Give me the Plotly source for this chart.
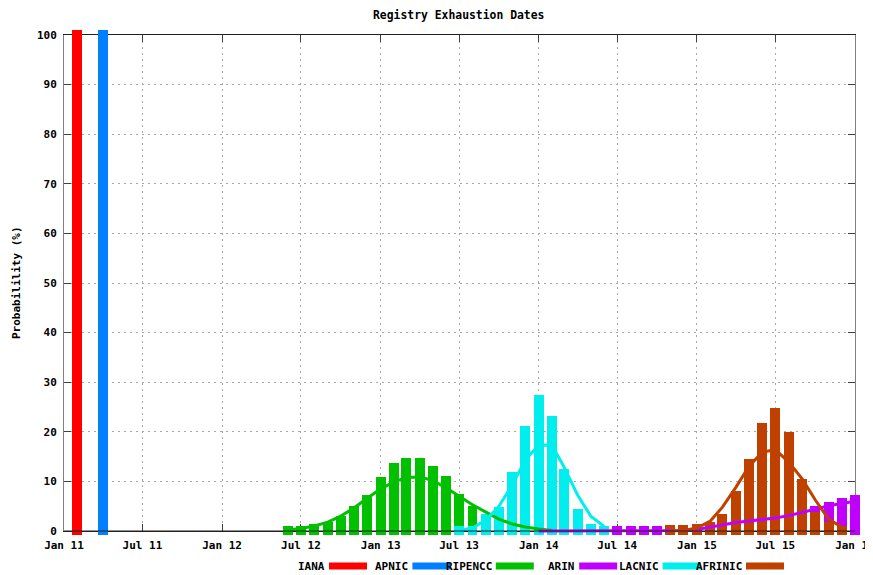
import plotly.graph_objects as go
import pandas as pd
from datetime import datetime, timedelta

# ---------------- data (probability %, monthly) ----------------
IANA_DATES = ["2011-02-01"]
IANA_BARS = [101.0]

APNIC_DATES = ["2011-04-01"]
APNIC_BARS = [101.0]

RIPENCC_BAR_START = "2012-06-01"
RIPENCC_BARS = [1.05, 1.05, 1.45, 1.85, 3.0, 5.0, 7.3, 10.85, 13.7, 14.75, 14.75,
                13.2, 11.0, 7.5, 5.1, 3.3, 1.9, 1.4, 1.05]
RIPENCC_FIT_START = "2012-06-01"
RIPENCC_FIT = [0.2, 0.5, 1.0, 1.8, 3.0, 4.7, 6.6, 8.5, 9.9, 10.8, 10.9, 10.2, 8.7,
               7.0, 5.3, 3.8, 2.4, 1.4, 0.8, 0.4, 0.1]

ARIN_BAR_START = "2014-07-01"
ARIN_BARS = [1.05, 1.05, 1.05, 1.05, 1.05, 1.05, 1.1, 1.2, 1.4, 1.6, 1.9, 2.2,
             2.6, 3.0, 3.6, 5.1, 5.8, 6.7, 7.35]
ARIN_FIT_START = "2014-01-01"
ARIN_FIT = [0.0, 0.0, 0.0, 0.0, 0.0, 0.0, 0.0, 0.0, 0.0, 0.0, 0.05, 0.1,
            0.3, 0.8, 1.3, 1.7, 2.0, 2.3, 2.6, 3.1, 3.7, 4.4, 5.1, 5.6, 6.0]

LACNIC_BAR_START = "2013-07-01"
LACNIC_BARS = [1.05, 1.05, 3.4, 4.9, 11.9, 21.1, 27.45, 23.1, 12.45, 4.5, 1.45, 1.1]
LACNIC_FIT_START = "2013-07-01"
LACNIC_FIT = [0.1, 0.6, 2.2, 5.0, 9.3, 14.3, 17.4, 17.2, 12.8, 7.2, 3.0, 0.9]

AFRINIC_BAR_START = "2014-11-01"
AFRINIC_BARS = [1.2, 1.2, 1.45, 1.9, 3.5, 8.0, 14.6, 21.7, 24.9, 20.0, 10.5, 3.8, 1.8, 1.1]
AFRINIC_FIT_START = "2014-11-01"
AFRINIC_FIT = [0.0, 0.1, 0.6, 2.0, 4.8, 8.8, 13.0, 15.9, 16.4, 13.9, 10.5, 6.3, 2.4, 0.8]

X_TICKS = ["2011-01-01", "2011-07-01", "2012-01-01", "2012-07-01", "2013-01-01",
           "2013-07-01", "2014-01-01", "2014-07-01", "2015-01-01", "2015-07-01", "2016-01-01"]
X_TICK_TEXT = ["Jan 11", "Jul 11", "Jan 12", "Jul 12", "Jan 13", "Jul 13",
               "Jan 14", "Jul 14", "Jan 15", "Jul 15", "Jan 16"]
Y_TICKS = [0, 10, 20, 30, 40, 50, 60, 70, 80, 90, 100]

NAMES = ["IANA", "APNIC", "RIPENCC", "ARIN", "LACNIC", "AFRINIC"]
COLORS = ["#ff0000", "#0080ff", "#00c000", "#c000ff", "#00eeee", "#c04000"]

TITLE = "Registry Exhaustion Dates"
YLABEL = "Probabilility (%)"

# ---------------- geometry (page pixels; page body has an 8px margin) ----------------
OFF = 8
W, H = 873 - OFF, 575 - OFF
FL, FR, FT, FB = 64 - OFF, 855 - OFF, 35 - OFF, 531 - OFF     # frame in figure pixels
X0, X1 = datetime(2011, 1, 1), datetime(2016, 1, 1)
ppd = (FR - FL) / (X1 - X0).days
ppu = (FB - FT) / 100.0
xr0 = X0 - timedelta(days=FL / ppd)
xr1 = X1 + timedelta(days=(W - FR) / ppd)
yr0 = -(H - FB) / ppu
yr1 = 100 + FT / ppu
BASE = -0.8
BAR_W_MS = 23 * 86400000

FONT = dict(family="DejaVu Sans Mono", size=11, color="black", weight="bold")
TITLE_FONT = dict(family="DejaVu Sans Mono", size=11.4, color="black", weight="bold")


def months(start, n):
    return [d.strftime("%Y-%m-%d") for d in pd.date_range(start, periods=n, freq="MS")]


bar_sets = [
    (IANA_DATES, IANA_BARS),
    (APNIC_DATES, APNIC_BARS),
    (months(RIPENCC_BAR_START, len(RIPENCC_BARS)), RIPENCC_BARS),
    (months(ARIN_BAR_START, len(ARIN_BARS)), ARIN_BARS),
    (months(LACNIC_BAR_START, len(LACNIC_BARS)), LACNIC_BARS),
    (months(AFRINIC_BAR_START, len(AFRINIC_BARS)), AFRINIC_BARS),
]
fit_sets = [
    None, None,
    (months(RIPENCC_FIT_START, len(RIPENCC_FIT)), RIPENCC_FIT),
    (months(ARIN_FIT_START, len(ARIN_FIT)), ARIN_FIT),
    (months(LACNIC_FIT_START, len(LACNIC_FIT)), LACNIC_FIT),
    (months(AFRINIC_FIT_START, len(AFRINIC_FIT)), AFRINIC_FIT),
]

fig = go.Figure()

# invisible trace so the frame subplot exists
fig.add_trace(go.Scatter(x=[X_TICKS[0]], y=[0], mode="markers", marker=dict(opacity=0),
                         showlegend=False, hoverinfo="skip", xaxis="x", yaxis="y"))

for name, color, (xs, vals) in zip(NAMES, COLORS, bar_sets):
    fig.add_trace(go.Bar(x=xs, y=[v - BASE for v in vals], base=BASE, width=BAR_W_MS,
                         name=name, marker=dict(color=color, line=dict(width=0)),
                         showlegend=False, xaxis="x2", yaxis="y2"))

for name, color, fs in zip(NAMES, COLORS, fit_sets):
    if fs is None:
        continue
    xs, vals = fs
    fig.add_trace(go.Scatter(x=xs, y=vals, mode="lines", name=name + " fit",
                             line=dict(color=color, width=3), showlegend=False,
                             xaxis="x2", yaxis="y2"))

axis_common = dict(ticks="inside", ticklen=7, tickcolor="#404040", showline=True,
                   mirror="ticks", showgrid=True, gridcolor="#a8a8a8", griddash="2px,4px",
                   gridwidth=1, zeroline=False, tickfont=FONT, automargin=False,
                   ticklabeloverflow="allow")

fig.update_layout(
    width=W, height=H,
    margin=dict(l=0, r=0, t=0, b=0),
    paper_bgcolor="white", plot_bgcolor="rgba(0,0,0,0)",
    barmode="overlay", bargap=0,
    showlegend=False,
    xaxis=dict(domain=[FL / W, FR / W], type="date", range=[X_TICKS[0], X_TICKS[-1]],
               tickmode="array", tickvals=X_TICKS, ticktext=X_TICK_TEXT,
               linecolor="#202020", anchor="y", ticklabelstandoff=4, **axis_common),
    yaxis=dict(domain=[1 - FB / H, 1 - FT / H], range=[0, 100], tickmode="array",
               tickvals=Y_TICKS, linecolor="#808080", anchor="x", ticklabelstandoff=4,
               **axis_common),
    xaxis2=dict(domain=[0, 1], type="date",
                range=[xr0.strftime("%Y-%m-%d %H:%M:%S"), xr1.strftime("%Y-%m-%d %H:%M:%S")],
                visible=False, anchor="y2"),
    yaxis2=dict(domain=[0, 1], range=[yr0, yr1], visible=False, anchor="x2"),
)

# zero axis drawn over the bars
fig.add_shape(type="line", xref="x2", yref="y2", x0=X_TICKS[0], x1=X_TICKS[-1], y0=0, y1=0,
              line=dict(color="#202020", width=1.2), layer="above")

annotations = [
    dict(text=TITLE, x=(458.5 - OFF) / W, y=1 - (15 - OFF) / H, xref="paper", yref="paper",
         showarrow=False, font=TITLE_FONT, xanchor="center", yanchor="middle"),
    dict(text=YLABEL, x=(16 - OFF) / W, y=1 - (283 - OFF) / H, xref="paper", yref="paper",
         showarrow=False, font=FONT, textangle=-90, xanchor="center", yanchor="middle"),
]

# manual gnuplot-style key: label then swatch
LEG_Y, SW_W, SW_H, SW_X0, SW_STEP = 566 - OFF, 38, 7, 329 - OFF, 83.4
for i, (name, color) in enumerate(zip(NAMES, COLORS)):
    sx = SW_X0 + i * SW_STEP
    fig.add_shape(type="rect", xref="paper", yref="paper",
                  x0=sx / W, x1=(sx + SW_W) / W,
                  y0=1 - (LEG_Y + SW_H / 2) / H, y1=1 - (LEG_Y - SW_H / 2) / H,
                  fillcolor=color, line=dict(width=0))
    annotations.append(dict(text=name, x=(sx - 2) / W, y=1 - LEG_Y / H, xref="paper",
                            yref="paper", showarrow=False, font=FONT,
                            xanchor="right", yanchor="middle"))

fig.update_layout(annotations=annotations)

fig.write_html("out.html")
